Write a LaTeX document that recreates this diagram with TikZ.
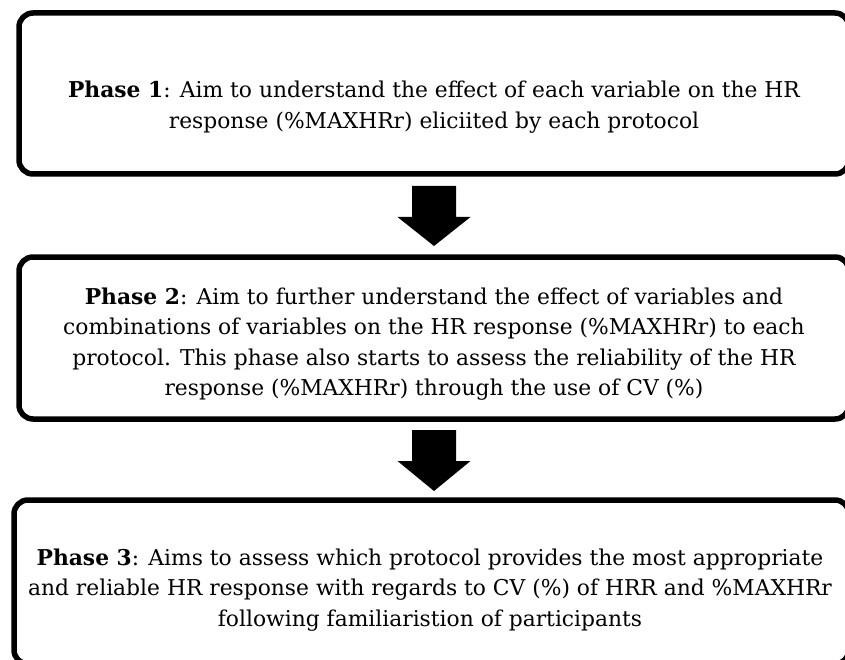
\documentclass[tikz,border=0pt]{standalone}
\usepackage{fontspec}
\setmainfont{DejaVu Serif}
\usetikzlibrary{calc}

\begin{document}
\begin{tikzpicture}[x=1pt,y=-1pt,
  phasebox/.style={draw=black, line width=5.5pt, rounded corners=14pt, inner sep=0pt, outer sep=0pt},
  phasetext/.style={align=center, font=\fontsize{21.8}{30.5}\selectfont, inner sep=0pt},
  bigarrow/.style={fill=black}]
\useasboundingbox (0,0) rectangle (845,660);
\clip (0,0) rectangle (845,660);

% the three phases
\node[phasebox, minimum width=830pt, minimum height=161pt] (p1) at (434,93.5) {};
\node[phasebox, minimum width=830pt, minimum height=162pt] (p2) at (434,338) {};
\node[phasebox, minimum width=835pt, minimum height=164pt] (p3) at (431.5,582) {};

\node[phasetext] (t1) at (434,107) {\textbf{Phase 1}: Aim to understand the effect of each variable on the HR\\
response (\%MAXHRr) eliciited by each protocol};
\node[phasetext] (t2) at (434,344) {\textbf{Phase 2}: Aim to further understand the effect of variables and\\
combinations of variables on the HR response (\%MAXHRr) to each\\
protocol. This phase also starts to assess the reliability of the HR\\
response (\%MAXHRr) through the use of CV (\%)};
\node[phasetext] (t3) at (430,590) {\textbf{Phase 3}: Aims to assess which protocol provides the most appropriate\\
and reliable HR response with regards to CV (\%) of HRR and \%MAXHRr\\
following familiaristion of participants};

% block arrows
\fill[bigarrow] ($(p1.south)+(-22,12)$) -- ($(p1.south)+(22,12)$) -- ($(p1.south)+(22,43)$)
  -- ($(p1.south)+(36.5,43)$) -- ($(p2.north)+(0,-11)$) -- ($(p1.south)+(-36.5,43)$)
  -- ($(p1.south)+(-22,43)$) -- cycle;
\fill[bigarrow] ($(p2.south)+(-22,11)$) -- ($(p2.south)+(22,11)$) -- ($(p2.south)+(22,42)$)
  -- ($(p2.south)+(36.5,42)$) -- ($(p3.north)+(2.5,-9)$) -- ($(p2.south)+(-36.5,42)$)
  -- ($(p2.south)+(-22,42)$) -- cycle;
\end{tikzpicture}
\end{document}
